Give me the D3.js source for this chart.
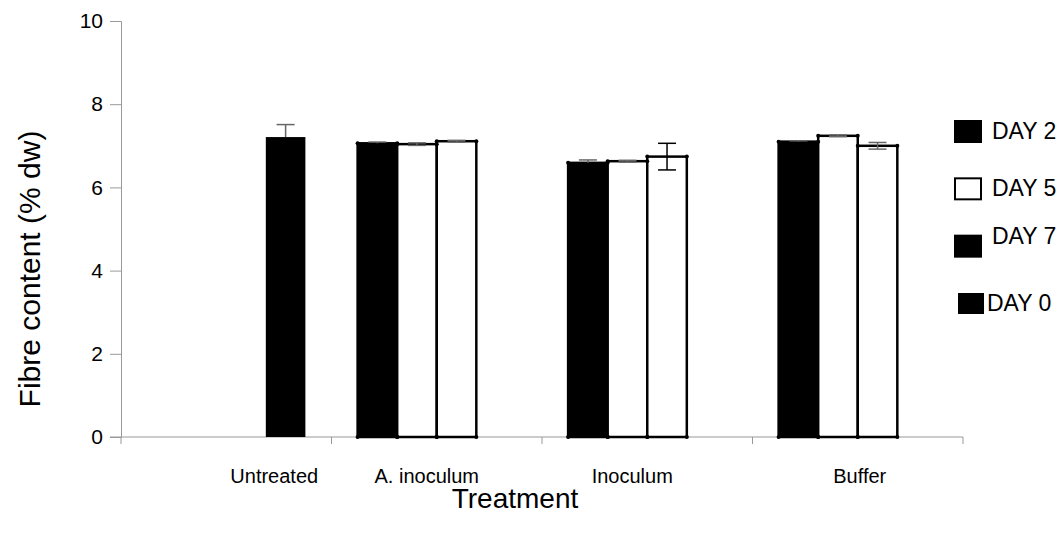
<!DOCTYPE html>
<html>
<head>
<meta charset="utf-8">
<script src="https://cdn.jsdelivr.net/npm/d3@7"></script>
<style>
  body { margin: 0; background: #fff; }
  text { font-family: "Liberation Sans", Arial, sans-serif; fill: #000; }
</style>
</head>
<body>
<div id="container"></div>
<script>
/* DATA */
const categories = ["Untreated", "A. inoculum", "Inoculum", "Buffer"];
const series = ["DAY 2", "DAY 5", "DAY 7", "DAY 0"];
const day2 = [null, 7.06, 6.59, 7.10];
const day5 = [null, 7.04, 6.63, 7.24];
const day7 = [null, 7.11, 6.74, 7.00];
const day0 = [7.21, null, null, null];
const day2Err = [null, 0.03, 0.07, 0.02];
const day5Err = [null, 0.03, 0.02, 0.02];
const day7Err = [null, 0.02, 0.32, 0.08];
const day0Err = [0.30, null, null, null];
const yTicks = [0, 2, 4, 6, 8, 10];

/* CONSTANTS */
const width = 1064, height = 539;
const plot = { left: 121, right: 963, top: 21, bottom: 437 };
const barFill = { "DAY 2": "#000", "DAY 5": "#fff", "DAY 7": "#fff", "DAY 0": "#000" };
const legendFill = { "DAY 2": "#000", "DAY 5": "#fff", "DAY 7": "#000", "DAY 0": "#000" };
const axisColor = "#999";

// build rows from the arrays
const values = [day2, day5, day7, day0];
const errs = [day2Err, day5Err, day7Err, day0Err];
const rows = [];
categories.forEach((c, i) => {
  series.forEach((s, j) => {
    if (values[j][i] != null) rows.push({ cat: c, s: s, v: values[j][i], e: errs[j][i] });
  });
});

const svg = d3.select("#container").append("svg")
  .attr("width", width).attr("height", height);

// scales
const x0 = d3.scaleBand().domain(categories).range([plot.left, plot.right]);
const x1 = d3.scaleBand().domain(series).range([0, x0.bandwidth()]).paddingOuter(0.66);
const y = d3.scaleLinear().domain([0, 10]).range([plot.bottom, plot.top]);

// y axis
const yAxis = d3.axisLeft(y).tickValues(yTicks).tickSize(11).tickPadding(7);
const yG = svg.append("g").attr("transform", `translate(${plot.left},0)`).call(yAxis);
yG.select(".domain").attr("stroke", axisColor);
yG.selectAll(".tick line").attr("stroke", axisColor);
yG.selectAll(".tick text").attr("font-size", 21).attr("font-family", "Liberation Sans, Arial");

// x axis line and boundary ticks
svg.append("line")
  .attr("x1", plot.left - 11).attr("x2", plot.right)
  .attr("y1", plot.bottom).attr("y2", plot.bottom)
  .attr("stroke", axisColor);
const bounds = categories.map(c => x0(c)).concat([plot.right]);
svg.selectAll(".xtick").data(bounds).join("line")
  .attr("class", "xtick")
  .attr("x1", d => d).attr("x2", d => d)
  .attr("y1", plot.bottom).attr("y2", plot.bottom + 7)
  .attr("stroke", axisColor);

// category labels
const labelShift = { "Untreated": 48, "A. inoculum": -10, "Inoculum": -15, "Buffer": 2 };
svg.selectAll(".catlabel").data(categories).join("text")
  .attr("class", "catlabel")
  .attr("x", d => x0(d) + x0.bandwidth() / 2 + labelShift[d])
  .attr("y", 483)
  .attr("text-anchor", "middle")
  .attr("font-size", 20)
  .text(d => d);

// axis titles
svg.append("text")
  .attr("x", 515).attr("y", 508)
  .attr("text-anchor", "middle")
  .attr("font-size", 28)
  .text("Treatment");

svg.append("text")
  .attr("transform", `translate(40,${(plot.top + plot.bottom) / 2 + 40}) rotate(-90)`)
  .attr("text-anchor", "middle")
  .attr("font-size", 30)
  .text("Fibre content (% dw)");

// error bar helpers
const ex = d => x0(d.cat) + x1(d.s) + x1.bandwidth() / 2;
const errRows = rows.filter(d => d.e);
const errColor = d => d.e > 0.2 && d.s === "DAY 7" ? "#000" : "#666";
const errLow = d => barFill[d.s] === "#000" ? d.v : d.v - d.e;

// bars
const bx = d => x0(d.cat) + x1(d.s);
svg.selectAll(".bar").data(rows).join("rect")
  .attr("class", "bar")
  .attr("x", bx)
  .attr("y", d => y(d.v))
  .attr("width", x1.bandwidth())
  .attr("height", d => y(0) - y(d.v))
  .attr("fill", d => barFill[d.s])
  .attr("stroke", d => d.s === "DAY 0" ? "none" : "#000")
  .attr("stroke-width", 2.5);

svg.selectAll(".err").data(errRows).join("line")
  .attr("class", "err")
  .attr("x1", ex).attr("x2", ex)
  .attr("y1", d => y(d.v + d.e)).attr("y2", d => y(errLow(d)))
  .attr("stroke", errColor).attr("stroke-width", 1.5);
svg.selectAll(".capTop").data(errRows).join("line")
  .attr("class", "capTop")
  .attr("x1", d => ex(d) - 9).attr("x2", d => ex(d) + 9)
  .attr("y1", d => y(d.v + d.e)).attr("y2", d => y(d.v + d.e))
  .attr("stroke", errColor).attr("stroke-width", 1.5);
svg.selectAll(".capBot").data(errRows.filter(d => barFill[d.s] !== "#000")).join("line")
  .attr("class", "capBot")
  .attr("x1", d => ex(d) - 9).attr("x2", d => ex(d) + 9)
  .attr("y1", d => y(d.v - d.e)).attr("y2", d => y(d.v - d.e))
  .attr("stroke", errColor).attr("stroke-width", 1.5);

// corner dots
const corners = [];
rows.filter(d => d.s !== "DAY 0").forEach(d => {
  [0, 1].forEach(k => {
    corners.push({ x: bx(d) + k * x1.bandwidth(), y: y(d.v) });
    corners.push({ x: bx(d) + k * x1.bandwidth(), y: y(0) });
  });
});
svg.selectAll(".dot").data(corners).join("circle")
  .attr("class", "dot")
  .attr("cx", d => d.x).attr("cy", d => d.y).attr("r", 2)
  .attr("fill", "#000");

// legend
const lg = svg.append("g");
const ly = d3.scalePoint().domain(series).range([131, 303]);
lg.selectAll("rect").data(series).join("rect")
  .attr("x", d => d === "DAY 0" ? 958 : 955)
  .attr("y", d => ly(d) - 10)
  .attr("width", 26).attr("height", 21)
  .attr("fill", d => legendFill[d])
  .attr("stroke", d => d === "DAY 0" ? "none" : "#000")
  .attr("stroke-width", 2);
lg.selectAll("text").data(series).join("text")
  .attr("x", d => d === "DAY 0" ? 987 : 992)
  .attr("y", d => ly(d) + 8 + (d === "DAY 7" ? -10 : 0))
  .attr("font-size", 23)
  .text(d => d);
</script>
</body>
</html>
